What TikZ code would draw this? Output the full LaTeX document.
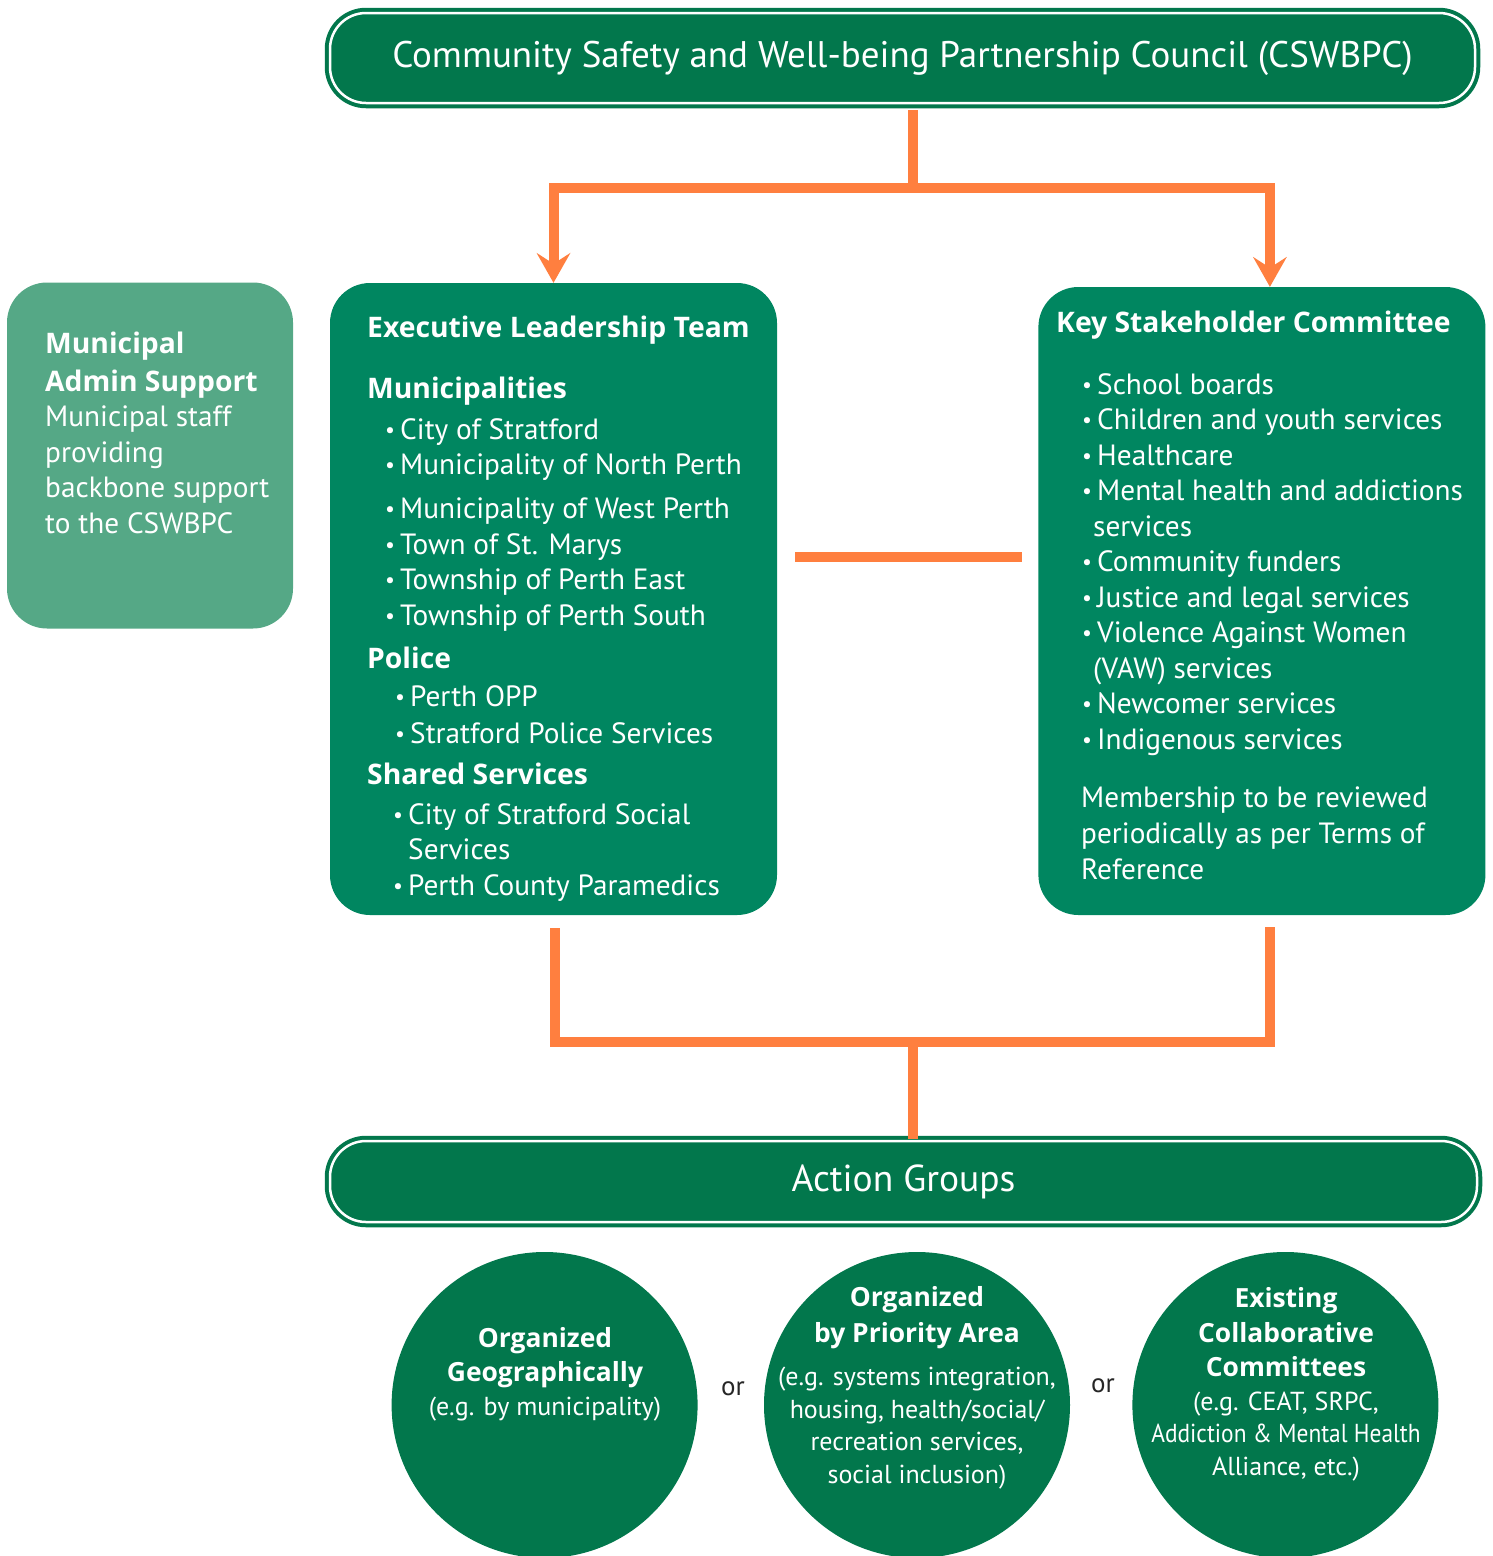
\documentclass[tikz,border=0pt]{standalone}
\usepackage{fontspec}
\usepackage{graphicx}
\setmainfont{PT Sans}
\newfontfamily\headfont{Open Sans}
\usetikzlibrary{arrows.meta, calc, positioning}

\definecolor{councilgreen}{RGB}{2,119,76}
\definecolor{teamgreen}{RGB}{0,134,96}
\definecolor{supportgreen}{RGB}{85,168,134}
\definecolor{linkorange}{RGB}{255,127,63}

\tikzstyle{bar}=[rectangle, rounded corners=36pt, fill=councilgreen, draw=councilgreen, double=white, double distance=2.5pt, line width=4pt, text=white]
\tikzstyle{panel}=[rectangle, rounded corners=40pt, inner sep=0pt]
\tikzstyle{group}=[circle, fill=councilgreen, minimum size=306pt, inner sep=0pt]
\tikzstyle{block}=[text=white, align=left, inner sep=0pt, anchor=base west, font=\fontsize{29.3}{35.5}\selectfont]
\tikzstyle{roundtext}=[text=white, align=center, inner sep=0pt, anchor=base, font=\fontsize{26}{32.5}\selectfont]
\tikzstyle{link}=[draw=linkorange, line width=10pt]
\tikzstyle{tip}=[-{Stealth[length=30pt, width=34pt, inset=11pt, line width=0pt]}]

\newcommand{\itm}[1]{\makebox[15pt][l]{\raisebox{2pt}{\scalebox{0.75}{•}}}#1}
\newcommand{\bhd}[1]{{\headfont\bfseries\fontsize{28.3}{35.5}\selectfont #1}}
\newcommand{\hd}[1]{{\headfont\bfseries\fontsize{26.4}{32.5}\selectfont #1}}

\begin{document}
\begin{tikzpicture}[x=1pt, y=-1pt]
  \useasboundingbox (0,0) rectangle (1492,1556);

  \node[bar, minimum width=1145pt, minimum height=90pt, font=\fontsize{37}{40}\selectfont] (council) at (902.5,58) {Community Safety and Well-being Partnership Council (CSWBPC)};

  \node[panel, fill=supportgreen, minimum width=286pt, minimum height=346pt] (admin) at (150,455.5) {};
  \node[panel, fill=teamgreen, minimum width=447pt, minimum height=632pt] (team) at (553.5,599) {};
  \node[panel, fill=teamgreen, minimum width=447pt, minimum height=628pt] (stake) [right=261pt of team.east, anchor=west, yshift=-2pt] {};

  % text blocks sit on the baseline of their last line
  \node[block] (admintext) at (45,533) {\bhd{Municipal}\\[2.5pt]
    \bhd{Admin Support}\\
    Municipal staff\\
    providing\\
    backbone support\\
    to the CSWBPC};

  \node[block] (teamtext) at (367,895) {\bhd{Executive Leadership Team}\\[25.5pt]
    \bhd{Municipalities}\\[5.5pt]
    \hspace*{18pt}\itm{City of Stratford}\\
    \hspace*{18pt}\itm{Municipality of North Perth}\\[8.5pt]
    \hspace*{18pt}\itm{Municipality of West Perth}\\
    \hspace*{18pt}\itm{Town of St. Marys}\\
    \hspace*{18pt}\itm{Township of Perth East}\\
    \hspace*{18pt}\itm{Township of Perth South}\\[7.5pt]
    \bhd{Police}\\[2.5pt]
    \hspace*{28pt}\itm{Perth OPP}\\[1.5pt]
    \hspace*{28pt}\itm{Stratford Police Services}\\[5.5pt]
    \bhd{Shared Services}\\[4.5pt]
    \hspace*{26pt}\itm{City of Stratford Social}\\
    \hspace*{41pt}Services\\
    \hspace*{26pt}\itm{Perth County Paramedics}};

  \node[block] (staketext) at (1056,879) {\bhd{Key Stakeholder Committee}\\[26.5pt]
    \hspace*{26pt}\itm{School boards}\\
    \hspace*{26pt}\itm{Children and youth services}\\
    \hspace*{26pt}\itm{Healthcare}\\
    \hspace*{26pt}\itm{Mental health and addictions}\\
    \hspace*{37pt}services\\
    \hspace*{26pt}\itm{Community funders}\\
    \hspace*{26pt}\itm{Justice and legal services}\\
    \hspace*{26pt}\itm{Violence Against Women}\\
    \hspace*{37pt}(VAW) services\\
    \hspace*{26pt}\itm{Newcomer services}\\
    \hspace*{26pt}\itm{Indigenous services}\\[23pt]
    \hspace*{25pt}Membership to be reviewed\\[0.5pt]
    \hspace*{25pt}periodically as per Terms of\\
    \hspace*{25pt}Reference};

  \node[bar, minimum width=1147pt, minimum height=81pt, font=\fontsize{37.5}{40}\selectfont] (actions) at (903.5,1181.5) {Action Groups};

  \node[group] (priority) at (917,1405) {};
  \node[group] (geography) [left=66pt of priority] {};
  \node[group] (existing) [right=62pt of priority] {};

  \node[roundtext] (geotext) at (545,1415) {\hd{Organized}\\[1.5pt]
    \hd{Geographically}\\[1.5pt]
    (e.g. by municipality)};
  \node[roundtext] (prioritytext) at (917,1483) {\hd{Organized}\\[3.5pt]
    \hd{by Priority Area}\\[10.5pt]
    (e.g. systems integration,\\
    housing, health/social/\\
    recreation services,\\
    social inclusion)};
  \node[roundtext] (existingtext) at (1286,1475) {\hd{Existing}\\[2.5pt]
    \hd{Collaborative}\\[1.5pt]
    \hd{Committees}\\[1.5pt]
    (e.g. CEAT, SRPC,\\
    \scalebox{0.9}[1]{Addiction \& Mental Health}\\
    Alliance, etc.)};

  \node[anchor=base, text=black!85, font=\fontsize{27}{30}\selectfont] (or1) at (733,1395) {or};
  \node[anchor=base, text=black!85, font=\fontsize{27}{30}\selectfont] (or2) at (1103,1392) {or};

  % connectors
  \coordinate (fork) at (913,188);
  \coordinate (midrow) at (0,557);
  \coordinate (merge) at (913,1042);
  \draw[link] ($(council.south -| fork)+(0,5)$) -- (fork);
  \draw[link, tip] (fork) -| (team.north);
  \draw[link, tip] (fork) -| ($(stake.north)+(8,0)$);
  \draw[link] ($(team.east |- midrow)+(18,0)$) -- ($(stake.west |- midrow)+(-16,0)$);
  \draw[link] ($(team.south)+(1.5,13)$) |- (merge) -| ($(stake.south)+(8,12)$);
  \draw[link] (merge) -- (actions.north -| merge);
\end{tikzpicture}
\end{document}
